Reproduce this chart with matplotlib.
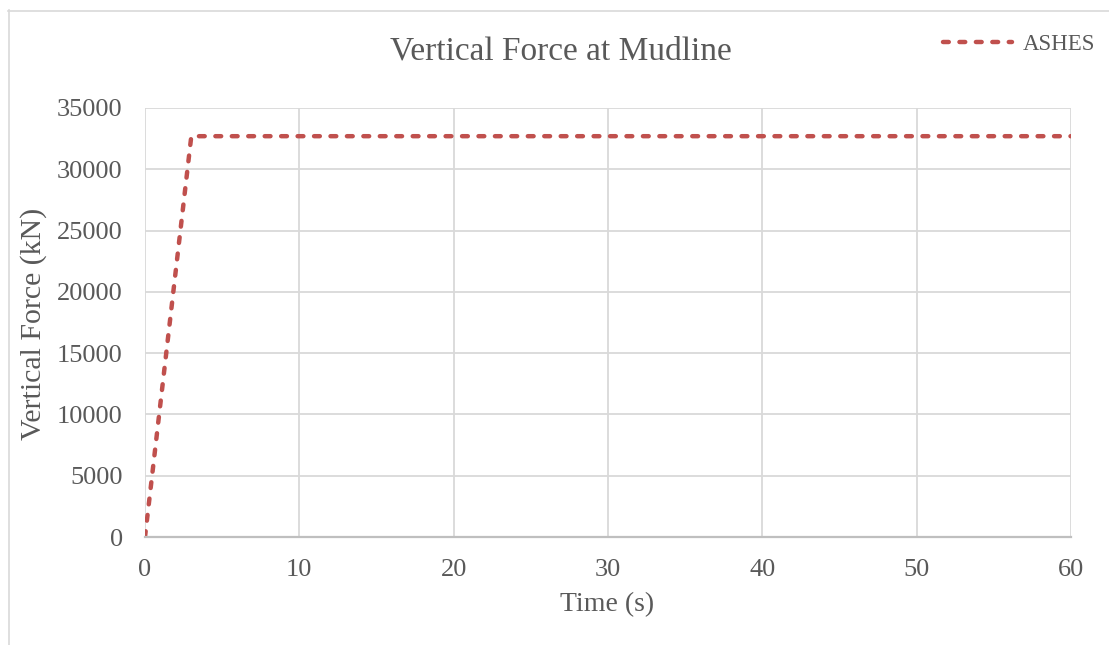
import matplotlib
matplotlib.use("Agg")
import matplotlib.pyplot as plt
from matplotlib.lines import Line2D

# Data: vertical force at mudline, ASHES simulation
time_s = [0, 3, 60]
force_kN = [0, 32700, 32700]
series_name = "ASHES"
x_ticks = [0, 10, 20, 30, 40, 50, 60]
y_ticks = [0, 5000, 10000, 15000, 20000, 25000, 30000, 35000]

W, H = 1109, 645
TEXT = "#595959"
GRID = "#D9D9D9"
RED = "#C0504D"

plt.rcParams["font.family"] = ["Liberation Serif", "DejaVu Serif"]

fig = plt.figure(figsize=(W / 100, H / 100), dpi=100)

# outer chart frame
fig.add_artist(Line2D([8.5 / W, 8.5 / W], [0, 1 - 10 / H], color=GRID, lw=1.2, transform=fig.transFigure))
fig.add_artist(Line2D([8 / W, 1], [1 - 10.5 / H, 1 - 10.5 / H], color=GRID, lw=1.2, transform=fig.transFigure))

ax = fig.add_axes([145 / W, (H - 537) / H, 926 / W, 429 / H])
line, = ax.plot(time_s, force_kN, color=RED, lw=3.2,
                linestyle=(0, (1.3, 2.4)), dash_capstyle="round", solid_joinstyle="round")

ax.set_xlim(x_ticks[0], x_ticks[-1])
ax.set_ylim(y_ticks[0], y_ticks[-1])
ax.set_xticks(x_ticks)
ax.set_yticks(y_ticks)
ax.grid(True, color=GRID, lw=1.3)
ax.set_axisbelow(True)
for side in ["top", "right", "left"]:
    ax.spines[side].set_visible(False)
ax.spines["bottom"].set_color("#BFBFBF")
ax.spines["bottom"].set_linewidth(1.6)
ax.tick_params(length=0, labelsize=19, labelcolor=TEXT)
ax.tick_params(axis="y", pad=16)
ax.tick_params(axis="x", pad=15.5)

# axis titles
fig.text(607 / W, 1 - 605 / H, "Time (s)", ha="center", va="center", fontsize=20, color=TEXT)
fig.text(34 / W, 1 - 324 / H, "Vertical Force (kN)", ha="center", va="center",
         rotation=90, fontsize=21.5, color=TEXT)

fig.text(561 / W, 1 - 51 / H, "Vertical Force at Mudline", ha="center", va="center",
         fontsize=24, color=TEXT)

leg = fig.legend([line], [series_name], loc="center right", bbox_to_anchor=(1104 / W, 1 - 44 / H),
                 frameon=False, fontsize=16.5, handlelength=3.0, handletextpad=0.45,
                 labelcolor=TEXT, borderaxespad=0)

fig.savefig("out.png", dpi=100)
